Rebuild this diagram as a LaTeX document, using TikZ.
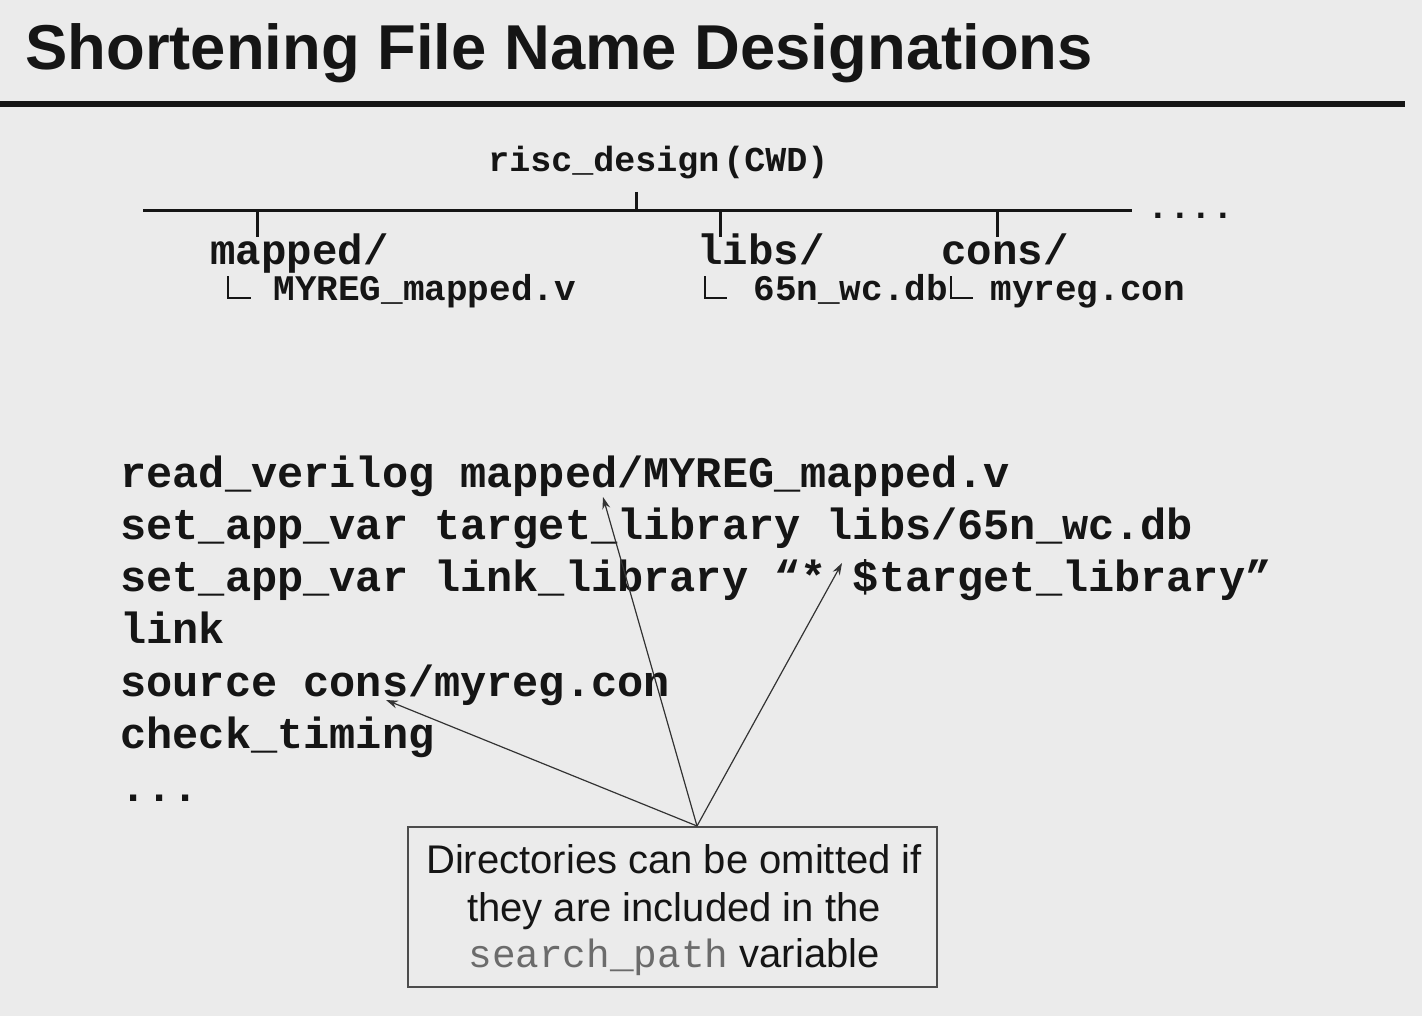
\documentclass[tikz,border=0pt]{standalone}
\usepackage{fontspec}
\setmainfont{Liberation Sans}
\setmonofont{Liberation Mono}
\usetikzlibrary{arrows.meta}
\definecolor{bg}{HTML}{EBEBEB}
\definecolor{ink}{HTML}{151515}
\tikzset{
  code/.style={anchor=base west, inner sep=0, text=ink, font=\fontsize{21.8}{26}\selectfont\ttfamily\bfseries},
  dirname/.style={anchor=base west, inner sep=0, text=ink, font=\fontsize{21.2}{26}\selectfont\ttfamily\bfseries},
  filename/.style={anchor=base west, inner sep=0, text=ink, font=\fontsize{18}{22}\selectfont\ttfamily\bfseries},
  treeline/.style={draw=ink, line width=1.5pt},
  lshape/.style={draw=ink, line width=1.4pt},
  arr/.style={draw=black!80, line width=0.6pt, -{Stealth[length=6pt,width=4pt]}},
}
\begin{document}
\begin{tikzpicture}[x=0.5pt,y=-0.5pt]
\fill[bg] (0,0) rectangle (1422,1016);
\useasboundingbox (0,0) rectangle (1422,1016);

% title
\node[anchor=base west, inner sep=0, text=ink, font=\fontsize{31.7}{38}\selectfont\bfseries] (title) at (25,70) {Shortening File Name Designations};
\draw[line width=3pt, draw=ink] (0,104) -- (1405,104);

% tree
\node[anchor=base west, inner sep=0, text=ink, font=\fontsize{17.5}{22}\selectfont\ttfamily\bfseries] (root) at (488,172) {risc\_design\kern2pt(CWD)};
\coordinate (lineL) at (143,211);
\coordinate (lineR) at (1132,211);
\draw[treeline] (lineL) -- (lineR);
\draw[treeline] (636,192) -- (636,211);
\node[filename] (more) at (1147,219) {....};

\draw[treeline] (257,211) -- (257,237);
\draw[treeline] (720,211) -- (720,237);
\draw[treeline] (997,211) -- (997,237);

\node[dirname] (mapped) at (210,264) {mapped/};
\node[dirname] (libs) at (697,264) {libs/};
\node[dirname] (cons) at (941,264) {cons/};

\draw[lshape] (228,276) -- (228,298) -- (251,298);
\draw[lshape] (705,276) -- (705,298) -- (727,298);
\draw[lshape] (951,276) -- (951,298) -- (973,298);

\node[filename] (fmapped) at (273,300) {MYREG\_mapped.v};
\node[filename] (flibs) at (753,300) {65n\_wc.db};
\node[filename] (fcons) at (990,300) {myreg.con};

% code
\node[code] (c1) at (120,487) {read\_verilog mapped/MYREG\_mapped.v};
\node[code] (c2) at (120,539) {set\_app\_var target\_library libs/65n\_wc.db};
\node[code] (c3) at (120,591) {set\_app\_var link\_library “* \$target\_library”};
\node[code] (c4) at (120,643) {link};
\node[code] (c5) at (120,696) {source cons/myreg.con};
\node[code] (c6) at (120,748) {check\_timing};
\node[code] (c7) at (120,801) {...};

% note box
\node[draw=black!70, line width=0.8pt, fill=bg, minimum width=264.5pt, minimum height=80pt, inner sep=0] (box) at (672.5,907) {};
\node[anchor=base, inner sep=0, text=ink, font=\fontsize{20}{23.5}\selectfont] (n1) at (674,873) {Directories can be omitted if};
\node[anchor=base, inner sep=0, text=ink, font=\fontsize{20}{23.5}\selectfont] (n2) at (674,921) {they are included in the};
\node[anchor=base, inner sep=0, text=ink, font=\fontsize{20}{23.5}\selectfont] (n3) at (674,967) {{\color{black!58}\ttfamily\fontsize{19.7}{23.5}\selectfont search\_path} variable};

% arrows
\coordinate (src) at (697,826);
\coordinate (t1) at (603,497);
\coordinate (t2) at (842,563);
\coordinate (t3) at (386,700);
\draw[arr] (src) -- (t1);
\draw[arr] (src) -- (t2);
\draw[arr] (src) -- (t3);
\end{tikzpicture}
\end{document}
